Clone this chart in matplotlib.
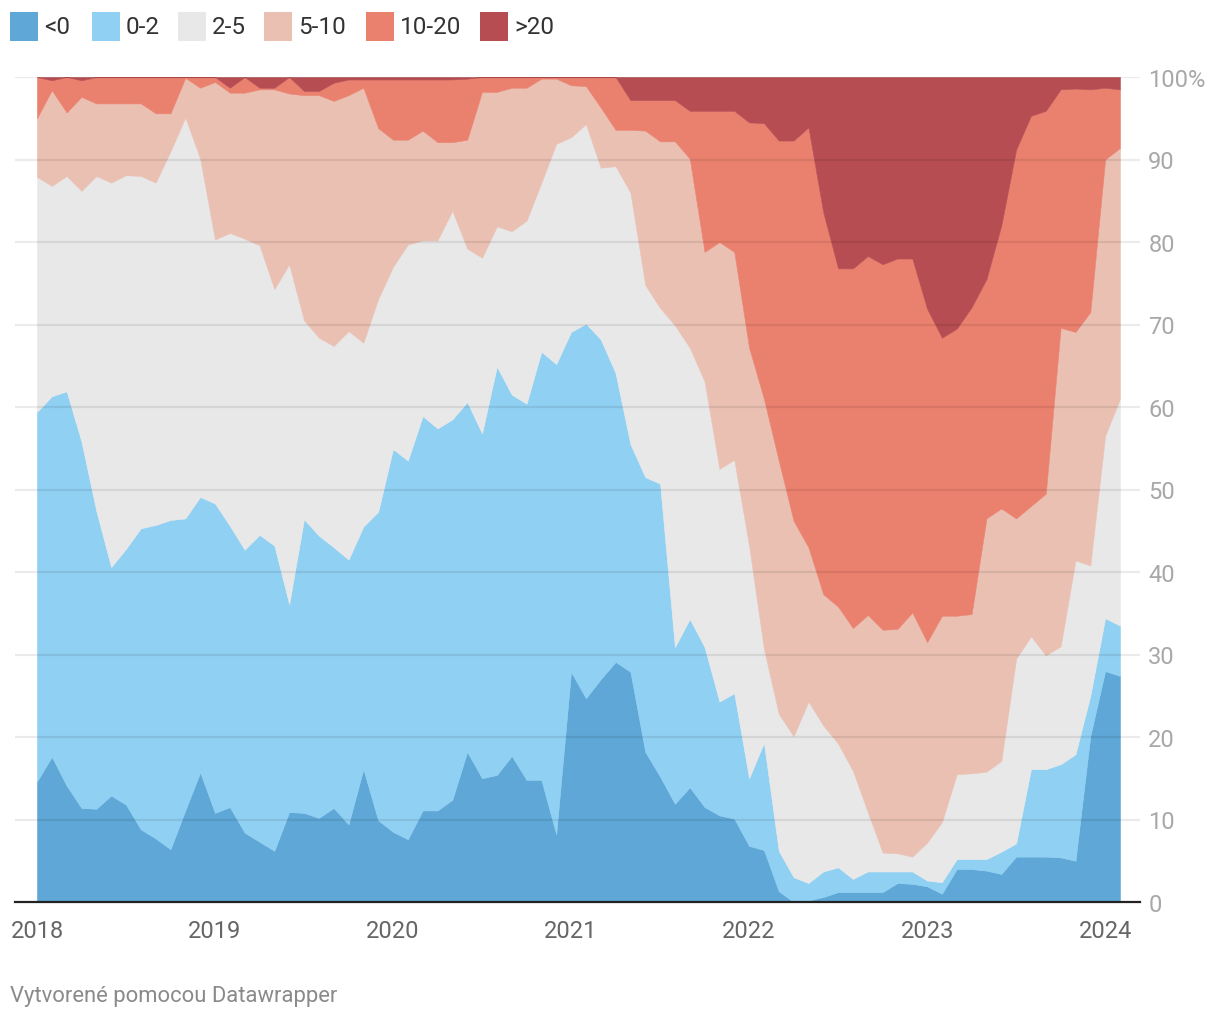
import matplotlib
matplotlib.use("Agg")
import matplotlib.pyplot as plt
import numpy as np
from matplotlib.patches import Rectangle

plt.rcParams['font.family'] = ['Roboto', 'DejaVu Sans']

# Monthly data, Jan 2018 .. Feb 2024 (share of items in each inflation band, %)
years = ["2018", "2019", "2020", "2021", "2022", "2023", "2024"]
labels = ["<0", "0-2", "2-5", "5-10", "10-20", ">20"]
colors = ["#5ea7d6", "#90d0f2", "#e8e8e8", "#eac0b3", "#ea816e", "#b64d52"]

lt0 = [14.6, 17.6, 14.1, 11.4, 11.3, 12.9, 11.8, 8.8, 7.7, 6.4, 11.1, 15.7,
       10.8, 11.5, 8.4, 7.3, 6.2, 10.9, 10.8, 10.2, 11.4, 9.4, 16.1, 9.9,
       8.5, 7.6, 11.1, 11.1, 12.4, 18.2, 15.0, 15.4, 17.7, 14.8, 14.8, 8.2,
       27.9, 24.7, 27.0, 29.1, 27.9, 18.2, 15.2, 11.9, 13.9, 11.5, 10.5, 10.1,
       6.8, 6.3, 1.3, 0.0, 0.2, 0.6, 1.2, 1.2, 1.2, 1.2, 2.3, 2.2,
       1.9, 1.0, 4.0, 4.0, 3.8, 3.4, 5.5, 5.5, 5.5, 5.4, 5.0, 20.1,
       28.0, 27.4]
b0_2 = [44.8, 43.7, 47.8, 44.4, 36.1, 27.7, 31.0, 36.5, 38.0, 39.9, 35.4, 33.4,
        37.5, 34.1, 34.3, 37.2, 37.0, 25.2, 35.6, 34.2, 31.6, 32.1, 29.4, 37.4,
        46.4, 45.9, 47.8, 46.3, 46.1, 42.4, 41.8, 49.5, 43.8, 45.6, 51.9, 57.0,
        41.2, 45.4, 41.2, 35.0, 27.6, 33.3, 35.5, 19.0, 20.4, 19.4, 13.8, 15.2,
        8.2, 13.0, 4.9, 3.0, 2.1, 3.1, 3.0, 1.6, 2.5, 2.5, 1.4, 1.5,
        0.7, 1.4, 1.2, 1.2, 1.4, 2.7, 1.6, 10.6, 10.6, 11.3, 12.9, 4.9,
        6.4, 6.1]
b2_5 = [28.5, 25.5, 26.1, 30.4, 40.6, 46.6, 45.3, 42.7, 41.5, 44.7, 48.6, 41.0,
        32.0, 35.5, 37.7, 35.1, 31.1, 41.2, 24.1, 24.0, 24.4, 27.7, 22.3, 25.8,
        22.1, 26.2, 21.3, 22.8, 25.3, 18.6, 21.3, 17.0, 19.8, 22.2, 20.5, 26.7,
        23.6, 24.2, 20.8, 25.1, 30.5, 23.3, 21.3, 39.0, 32.9, 32.2, 28.2, 28.3,
        28.2, 11.4, 16.6, 17.1, 22.0, 17.7, 15.0, 13.1, 7.2, 2.3, 2.2, 1.8,
        4.6, 7.3, 10.3, 10.4, 10.6, 11.0, 22.4, 16.1, 13.8, 14.3, 23.5, 15.8,
        22.1, 27.5]
b5_10 = [7.1, 11.6, 7.7, 11.4, 8.8, 9.6, 8.7, 8.8, 8.4, 4.6, 4.8, 8.6,
         19.1, 17.0, 17.7, 18.9, 24.2, 20.7, 27.3, 29.4, 29.7, 28.6, 30.9, 20.7,
         15.4, 12.7, 13.3, 11.9, 8.3, 13.2, 20.1, 16.3, 17.4, 16.1, 12.6, 7.9,
         6.3, 4.6, 7.3, 4.4, 7.6, 18.7, 20.2, 22.3, 22.9, 15.7, 27.5, 25.2,
         24.0, 30.3, 30.7, 26.1, 18.7, 15.9, 16.6, 17.3, 23.9, 27.0, 27.2, 29.6,
         24.3, 25.0, 19.2, 19.3, 30.7, 30.6, 17.0, 15.8, 19.6, 38.6, 27.7, 30.7,
         33.5, 30.4]
b10_20 = [5.0, 1.2, 4.3, 2.0, 3.2, 3.2, 3.2, 3.2, 4.4, 4.4, 0.1, 1.3,
          0.6, 0.6, 1.9, 0.2, 0.2, 2.0, 0.5, 0.5, 2.2, 1.9, 1.0, 5.9,
          7.3, 7.3, 6.2, 7.6, 7.6, 7.4, 1.8, 1.8, 1.3, 1.3, 0.2, 0.2,
          1.0, 1.1, 3.7, 6.4, 3.6, 3.7, 5.0, 5.0, 5.8, 17.1, 15.9, 17.1,
          27.3, 33.4, 38.8, 46.1, 50.9, 46.3, 41.0, 43.6, 43.5, 44.3, 44.9, 42.9,
          40.4, 33.7, 34.8, 37.2, 29.0, 34.3, 44.7, 47.3, 46.4, 28.9, 29.5, 27.0,
          8.7, 7.1]
gt20 = [0.0, 0.4, 0.0, 0.4, 0.0, 0.0, 0.0, 0.0, 0.0, 0.0, 0.0, 0.0,
        0.0, 1.3, 0.0, 1.3, 1.3, 0.0, 1.7, 1.7, 0.7, 0.3, 0.3, 0.3,
        0.3, 0.3, 0.3, 0.3, 0.3, 0.2, 0.0, 0.0, 0.0, 0.0, 0.0, 0.0,
        0.0, 0.0, 0.0, 0.0, 2.8, 2.8, 2.8, 2.8, 4.1, 4.1, 4.1, 4.1,
        5.5, 5.6, 7.7, 7.7, 6.1, 16.4, 23.2, 23.2, 21.7, 22.7, 22.0, 22.0,
        28.1, 31.6, 30.5, 27.9, 24.5, 18.0, 8.8, 4.7, 4.1, 1.5, 1.4, 1.5,
        1.3, 1.5]

series = [lt0, b0_2, b2_5, b5_10, b10_20, gt20]
x = np.arange(len(lt0))

fig = plt.figure(figsize=(12.2, 10.2), dpi=100)
W, H = 1220, 1020
ax = fig.add_axes([15 / W, 1 - 903 / H, (1140 - 15) / W, (903 - 78) / H])

polys = ax.stackplot(x, *series, colors=colors, linewidth=0)
for p, c in zip(polys, colors):
    p.set_edgecolor(c)
    p.set_linewidth(0.4)

ax.set_xlim(-1.48, len(x) - 1 + 1.35)
ax.set_ylim(0, 100)

# gridlines on top of the areas
for v in range(10, 101, 10):
    ax.axhline(v, color="#000000", alpha=0.08, linewidth=1.6, zorder=5)

ax.set_yticks(range(0, 101, 10))
ax.set_yticklabels([str(v) if v < 100 else "100%" for v in range(0, 101, 10)])
ax.yaxis.tick_right()
ax.tick_params(axis="y", length=0, pad=6, labelsize=17, labelcolor="#a8a8a8")
for lab in ax.get_yticklabels():
    lab.set_horizontalalignment("left")

ax.set_xticks(range(0, len(x), 12))
ax.set_xticklabels(years)
ax.tick_params(axis="x", length=0, pad=12, labelsize=17, labelcolor="#666666")

for s in ["top", "right", "left"]:
    ax.spines[s].set_visible(False)
ax.spines["bottom"].set_color("#222222")
ax.spines["bottom"].set_linewidth(1.6)
ax.spines["bottom"].set_zorder(6)

# legend
leg_x = [10, 92, 178, 264, 366, 480]
for lx, lab, c in zip(leg_x, labels, colors):
    fig.patches.append(Rectangle((lx / W, 1 - 42 / H), 28 / W, 29 / H,
                                 transform=fig.transFigure, facecolor=c,
                                 edgecolor="none"))
    fig.text((lx + 34) / W, 1 - 27 / H, lab, fontsize=17.5, color="#333333",
             va="center", ha="left")

fig.text(10 / W, 1 - 997 / H, "Vytvorené pomocou Datawrapper", fontsize=15.8,
         color="#8a8a8a", va="center", ha="left")

fig.savefig("out.png", dpi=100)
